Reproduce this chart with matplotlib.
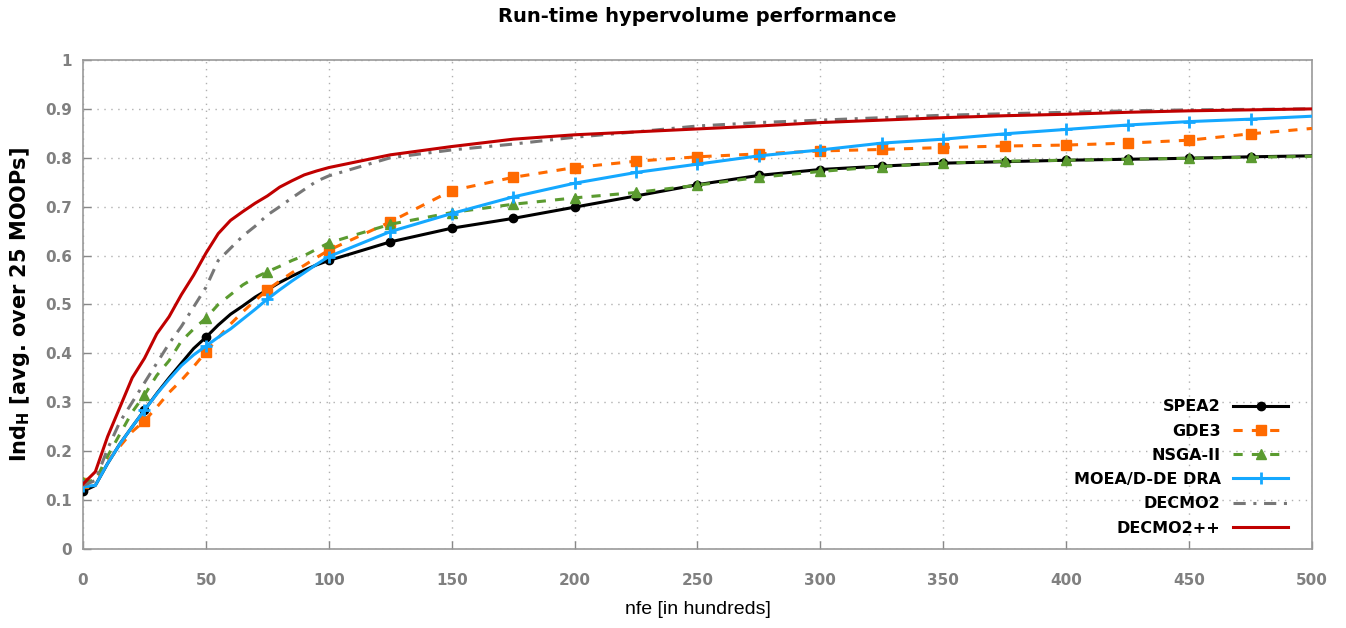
import numpy as np
import matplotlib.pyplot as plt

# ── data ─────────────────────────────────────────────────────────────────────
nfe = [0, 5, 10, 15, 20, 25, 30, 35, 40, 45, 50, 55, 60, 65, 70, 75, 80, 85, 90, 95, 100,
       125, 150, 175, 200, 225, 250, 275, 300, 325, 350, 375, 400, 425, 450, 475, 500]

spea2 = [0.118, 0.13, 0.175, 0.215, 0.25, 0.284, 0.318, 0.35, 0.38, 0.41, 0.433, 0.458, 0.48,
         0.497, 0.515, 0.53, 0.545, 0.558, 0.57, 0.581, 0.59,
         0.628, 0.656, 0.676, 0.699, 0.722, 0.745, 0.764, 0.776, 0.783, 0.789, 0.792, 0.795,
         0.797, 0.799, 0.802, 0.804]
gde3 = [0.135, 0.14, 0.18, 0.21, 0.24, 0.262, 0.29, 0.32, 0.345, 0.373, 0.403, 0.432, 0.46,
        0.485, 0.508, 0.53, 0.548, 0.565, 0.58, 0.596, 0.611,
        0.669, 0.733, 0.760, 0.780, 0.793, 0.802, 0.808, 0.814, 0.817, 0.821, 0.824, 0.826,
        0.830, 0.836, 0.849, 0.860]
nsga2 = [0.138, 0.14, 0.19, 0.235, 0.28, 0.315, 0.355, 0.385, 0.425, 0.45, 0.472, 0.5, 0.52,
         0.54, 0.555, 0.567, 0.578, 0.59, 0.6, 0.613, 0.626,
         0.664, 0.688, 0.705, 0.718, 0.729, 0.744, 0.760, 0.772, 0.782, 0.789, 0.793, 0.795,
         0.797, 0.799, 0.801, 0.803]
moead = [0.128, 0.13, 0.175, 0.215, 0.25, 0.284, 0.317, 0.347, 0.375, 0.397, 0.415, 0.433, 0.45,
         0.47, 0.49, 0.511, 0.53, 0.548, 0.565, 0.582, 0.598,
         0.649, 0.686, 0.720, 0.748, 0.770, 0.787, 0.804, 0.816, 0.830, 0.838, 0.849, 0.858,
         0.867, 0.874, 0.879, 0.885]
decmo2 = [0.13, 0.14, 0.205, 0.26, 0.3, 0.34, 0.38, 0.42, 0.455, 0.495, 0.535, 0.59, 0.615,
          0.64, 0.66, 0.683, 0.7, 0.718, 0.735, 0.752, 0.763,
          0.8, 0.816, 0.828, 0.842, 0.853, 0.865, 0.872, 0.877, 0.882, 0.887, 0.890, 0.893,
          0.896, 0.898, 0.899, 0.900]
decmo2pp = [0.133, 0.158, 0.23, 0.29, 0.35, 0.39, 0.44, 0.475, 0.52, 0.56, 0.605, 0.645, 0.672,
            0.69, 0.707, 0.722, 0.74, 0.753, 0.765, 0.773, 0.78,
            0.806, 0.823, 0.838, 0.847, 0.853, 0.859, 0.865, 0.872, 0.877, 0.882, 0.886, 0.889,
            0.893, 0.896, 0.898, 0.900]

labels = ["SPEA2", "GDE3", "NSGA-II", "MOEA/D-DE DRA", "DECMO2", "DECMO2++"]

# ── styles ───────────────────────────────────────────────────────────────────
styles = [
    dict(color="black", ls="-", marker="o", ms=6),
    dict(color="#ff6a00", ls=(0, (3, 3)), marker="s", ms=7),
    dict(color="#5b9b30", ls=(0, (3, 3)), marker="^", ms=7),
    dict(color="#14a8ff", ls="-", marker="+", ms=9),
    dict(color="#777777", ls=(0, (4, 2.5, 1, 2.5)), marker=None, ms=0),
    dict(color="#c00000", ls="-", marker=None, ms=0),
]
series = [spea2, gde3, nsga2, moead, decmo2, decmo2pp]

plt.rcParams["font.family"] = ["Liberation Sans", "DejaVu Sans"]
HEAVY = "DejaVu Sans"

fig = plt.figure(figsize=(13.46, 6.28), dpi=100)
ax = fig.add_axes([0.0617, 0.1258, 0.9130, 0.7787])

x = np.array(nfe)
mark_idx = [i for i, v in enumerate(nfe) if v % 25 == 0 and v < 500]

for y, lab, st in zip(series, labels, styles):
    ax.plot(x, y, color=st["color"], ls=st["ls"], lw=2.2, zorder=3,
            marker=st["marker"], ms=st["ms"], mew=2 if st["marker"] == "+" else 1,
            markevery=mark_idx if st["marker"] else None, label=lab)

ax.set_xlim(0, 500)
ax.set_ylim(0, 1)
ax.set_xticks(np.arange(0, 501, 50))
ax.set_yticks(np.arange(0, 1.01, 0.1))
ax.set_yticklabels(["0", "0.1", "0.2", "0.3", "0.4", "0.5", "0.6", "0.7", "0.8", "0.9", "1"])
ax.tick_params(direction="in", length=6, width=1, colors="#888888", labelcolor="#808080",
               labelsize=11)
ax.tick_params(axis="x", pad=17)
ax.tick_params(axis="y", pad=8)
for lab in ax.get_xticklabels() + ax.get_yticklabels():
    lab.set_fontweight("bold")
    lab.set_family(HEAVY)
for sp in ax.spines.values():
    sp.set_edgecolor("#999999")
    sp.set_linewidth(1.2)
ax.grid(True, color="#b0b0b0", linestyle=(0, (1, 4)), linewidth=1)

ax.set_xlabel("nfe [in hundreds]", fontsize=14, labelpad=10)
ax.set_ylabel(r"Ind$_\mathbf{H}$ [avg. over 25 MOOPs]", fontsize=15, fontweight="bold",
              family=HEAVY, labelpad=9)
ax.set_title("Run-time hypervolume performance", fontsize=14, fontweight="bold",
             family=HEAVY, pad=27)

leg = ax.legend(loc="lower right", bbox_to_anchor=(0.992, -0.002), frameon=False,
                markerfirst=False, handlelength=3.4, labelspacing=0.58, handletextpad=0.8,
                prop={"weight": "bold", "size": 11.5, "family": HEAVY})

fig.savefig("out.png", dpi=100)
